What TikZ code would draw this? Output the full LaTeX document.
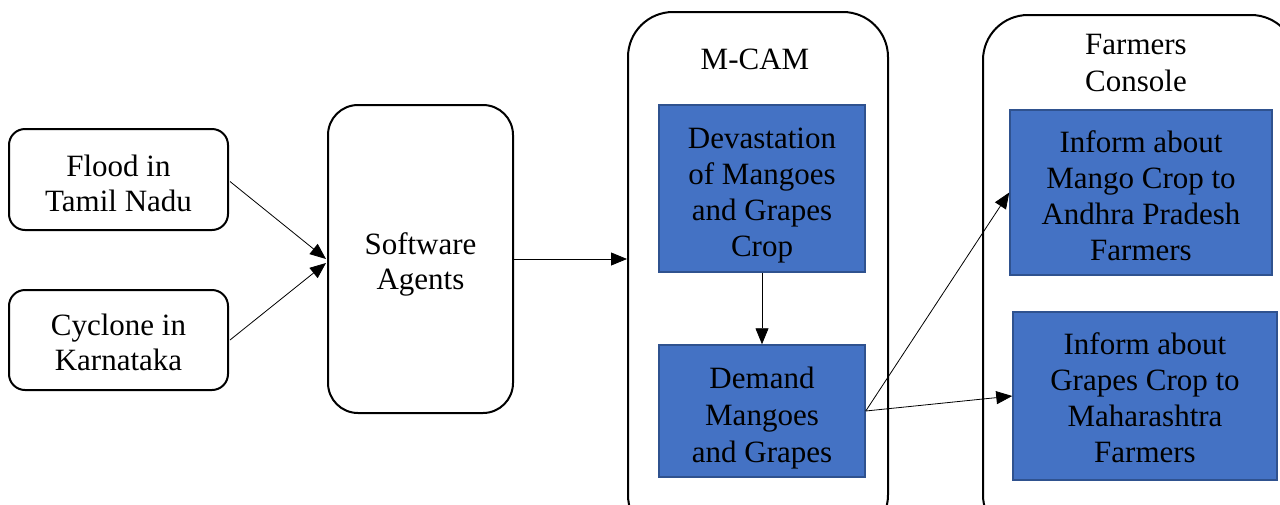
\documentclass[tikz,border=0pt]{standalone}
\usepackage{fontspec}
\setmainfont{Liberation Serif}
\usetikzlibrary{arrows.meta,calc}
\definecolor{boxblue}{HTML}{4472C4}
\definecolor{boxedge}{HTML}{2F528F}
\newcommand\lowtext[2]{\raisebox{-#1}[\height][\depth]{\begin{tabular}{@{}c@{}}#2\end{tabular}}}
\begin{document}
\begin{tikzpicture}[x=1pt,y=-1pt,
  txt/.style={font=\fontsize{31}{37}\selectfont, align=center, inner sep=0pt},
  rbox/.style={txt, draw=black, line width=2pt, rounded corners=#1, fill=white},
  bbox/.style={txt, draw=boxedge, fill=boxblue, line width=1.5pt},
  arr/.style={-{Triangle[length=16pt,width=13pt]}, line width=0.8pt}]
\clip (0,0) rectangle (1280,504);
\useasboundingbox (0,0) rectangle (1280,504);
% containers
\node[rbox=45pt, minimum width=260pt, minimum height=528pt] (mcam) at (758,276) {};
\node[rbox=45pt, minimum width=313pt, minimum height=525pt] (fc) at (1139.5,277.5) {};
\node[txt] (mcamlbl) at (755,59) {M-CAM};
\node[txt] (fclbl) at (1136,63) {Farmers\\Console};
% left boxes
\node[rbox=16pt, minimum width=219pt, minimum height=101pt] (flood) at (118.5,179.5) {\lowtext{7pt}{Flood in\\[-2pt]Tamil Nadu}};
\node[rbox=16pt, minimum width=219pt, minimum height=100pt] (cyc) at (118.5,340) {\lowtext{6pt}{Cyclone in\\[-2pt]Karnataka}};
\node[rbox=30pt, minimum width=185pt, minimum height=308pt] (sw) at (420.5,259) {\lowtext{6pt}{Software\\[-2pt]Agents}};
% blue boxes
\node[bbox, minimum width=206pt, minimum height=167pt] (dev) at (762,188.5) {\lowtext{7pt}{Devastation\\[-1pt]of Mangoes\\[-1pt]and Grapes\\[-1pt]Crop}};
\node[bbox, minimum width=206pt, minimum height=132pt] (dem) at (762,411) {\lowtext{7pt}{Demand\\[0pt]Mangoes\\[0pt]and Grapes}};
\node[bbox, minimum width=262pt, minimum height=165pt] (mango) at (1141,192.5) {\lowtext{7pt}{Inform about\\[-1pt]Mango Crop to\\[-1pt]Andhra Pradesh\\[-1pt]Farmers}};
\node[bbox, minimum width=264pt, minimum height=168pt] (grapes) at (1145,396) {\lowtext{5pt}{Inform about\\[-1pt]Grapes Crop to\\[-1pt]Maharashtra\\[-1pt]Farmers}};
% connectors
\draw[arr] ($(flood.east)+(1,2)$) -- ($(sw.west)+(-1,0)$);
\draw[arr] ($(cyc.east)+(1,0)$) -- ($(sw.west)+(-1,4)$);
\draw[arr] (sw.east) -- (sw.east -| mcam.west);
\draw[arr] (dev.south) -- (dem.north);
\draw[arr] (dem.east) -- (mango.west);
\draw[arr] (dem.east) -- (grapes.west);
\end{tikzpicture}
\end{document}
